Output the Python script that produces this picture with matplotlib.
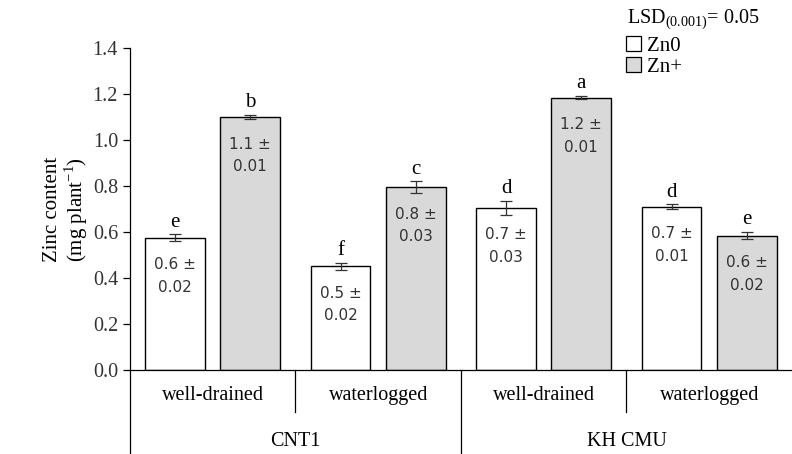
import numpy as np
import matplotlib.pyplot as plt
from matplotlib.patches import Patch

#------------------------------ Datos ------------------------------
water = ["well-drained", "waterlogged", "well-drained", "waterlogged"]
cultivars = ["CNT1", "KH CMU"]
zn0 = [0.575, 0.452, 0.705, 0.710]
zn0_err = [0.015, 0.015, 0.03, 0.01]
znp = [1.100, 0.795, 1.185, 0.585]
znp_err = [0.01, 0.025, 0.006, 0.015]
zn0_lab = ["0.6 ±\n0.02", "0.5 ±\n0.02", "0.7 ±\n0.03", "0.7 ±\n0.01"]
znp_lab = ["1.1 ±\n0.01", "0.8 ±\n0.03", "1.2 ±\n0.01", "0.6 ±\n0.02"]
zn0_let = ["e", "f", "d", "d"]
znp_let = ["b", "c", "a", "e"]
#-------------------------------------------------------------------

plt.rcParams['font.family'] = 'Liberation Serif'
plt.rcParams['mathtext.fontset'] = 'custom'
plt.rcParams['mathtext.rm'] = 'Liberation Serif'

fig = plt.figure(figsize=(7.92, 4.54), dpi=100)
ax = fig.add_axes([0.164, 0.185, 0.836, 0.709])

x = np.arange(len(water))
w = 0.36
off = 0.227

ax.bar(x - off, zn0, w, color='white', edgecolor='black', linewidth=1.0,
       yerr=zn0_err, error_kw=dict(ecolor='#333333', elinewidth=0.9, capsize=4, capthick=0.9))
ax.bar(x + off, znp, w, color='#d9d9d9', edgecolor='black', linewidth=1.0,
       yerr=znp_err, error_kw=dict(ecolor='#333333', elinewidth=0.9, capsize=4, capthick=0.9))

# etiquetas dentro y letras encima
for xs, vals, errs, labs, lets in [(x - off, zn0, zn0_err, zn0_lab, zn0_let),
                                   (x + off, znp, znp_err, znp_lab, znp_let)]:
    for xi, v, e, lb, lt in zip(xs, vals, errs, labs, lets):
        ax.annotate(lb, (xi, v), xytext=(0, -14), textcoords='offset points',
                    ha='center', va='top', fontsize=11, family='DejaVu Sans',
                    color='#333333', linespacing=1.65)
        ax.annotate(lt, (xi, v + e), xytext=(0, 2), textcoords='offset points',
                    ha='center', va='bottom', fontsize=15)

ax.set_ylim(0, 1.4)
ax.set_xlim(-0.5, 3.5)
ax.set_yticks(np.arange(0, 1.41, 0.2))
ax.set_yticklabels([f"{v:.1f}" for v in np.arange(0, 1.41, 0.2)], fontsize=14.5, color='#333333')
ax.tick_params(axis='y', direction='out', length=5, width=0.9)
ax.set_xticks([])
ax.spines['top'].set_visible(False)
ax.spines['right'].set_visible(False)
ax.spines['left'].set_linewidth(0.9)
ax.spines['bottom'].set_linewidth(0.9)
ax.set_ylabel("Zinc content\n(mg plant$^{-1}$)", fontsize=15, linespacing=1.0, labelpad=2)

# ejes de categorias
tr = ax.get_xaxis_transform()
for xi, lab in zip(x, water):
    ax.text(xi, -0.08, lab, transform=tr, ha='center', va='center', fontsize=14.5)
for xi in [0.5, 2.5]:
    ax.plot([xi, xi], [0, -0.13], transform=tr, color='black', lw=0.9, clip_on=False)
for xi in [-0.5, 1.5]:
    ax.plot([xi, xi], [0, -0.27], transform=tr, color='black', lw=0.9, clip_on=False)
for xi, lab in zip([0.5, 2.5], cultivars):
    ax.text(xi, -0.222, lab, transform=tr, ha='center', va='center', fontsize=14.5)

# leyenda
fig.text(0.792, 0.957, r"LSD$_{\mathrm{(0.001)}}$= 0.05", fontsize=14.5, va='center')
handles = [Patch(facecolor='white', edgecolor='black', lw=0.9),
           Patch(facecolor='#d9d9d9', edgecolor='black', lw=0.9)]
ax.legend(handles, ["Zn0", "Zn+"], loc='upper left', bbox_to_anchor=(0.791, 0.92),
          bbox_transform=fig.transFigure, frameon=False, fontsize=15,
          handlelength=0.7, handleheight=0.7, handletextpad=0.3, labelspacing=0.05,
          borderpad=0, borderaxespad=0)

fig.savefig("out.png", dpi=100)
